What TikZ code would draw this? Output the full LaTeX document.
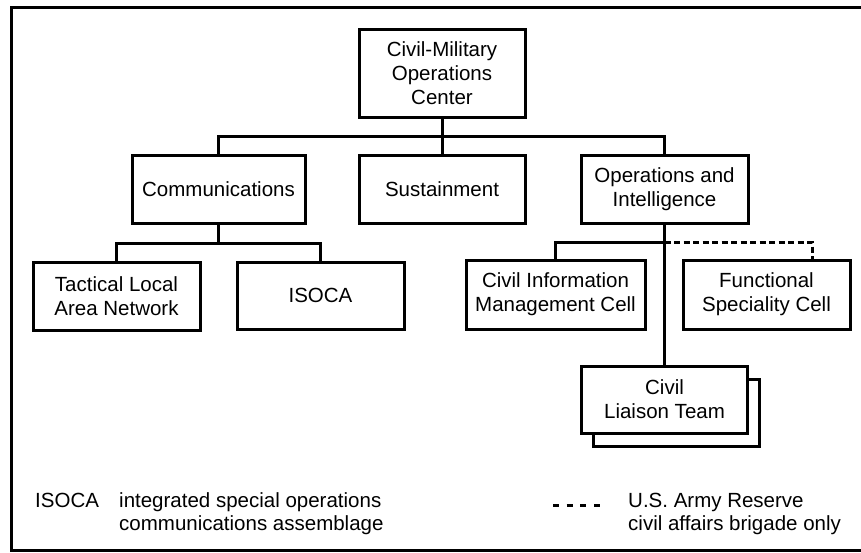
\documentclass[tikz,border=0pt]{standalone}
\usepackage{fontspec}
\setmainfont{Liberation Sans}
\usetikzlibrary{shadows}

\begin{document}
\begin{tikzpicture}[x=1pt,y=-1pt,
  unit/.style={draw,line width=3pt,fill=white,align=center,inner sep=2pt,font=\fontsize{20.5}{24}\selectfont},
  link/.style={line width=3pt},
  usar/.style={line width=3pt,dash pattern=on 6pt off 3.5pt},
  legend/.style={anchor=base west,inner sep=0pt,font=\fontsize{20.5}{24}\selectfont}]
%================================================================
%	Frame
\useasboundingbox (0,0) rectangle (861,552);
\draw[link] (11,7) rectangle (868,550);
%================================================================
%	Units
\node[unit,minimum width=166pt,minimum height=88pt] (cmoc) at (442,73) {Civil-Military\\Operations\\Center};
%----------------------------------------------------------------
\node[unit,minimum width=173pt,minimum height=68pt] (comm) at (218.5,189) {Communications};
\node[unit,minimum width=166pt,minimum height=68pt] (sust) at (442,189) {Sustainment};
\node[unit,minimum width=167pt,minimum height=68pt] (opsint) at (664.5,189) {Operations and\\Intelligence};
%----------------------------------------------------------------
\node[unit,minimum width=167pt,minimum height=68pt] (tlan) at (116.5,296) {Tactical Local\\Area Network};
\node[unit,minimum width=167pt,minimum height=67pt] (isoca) at (320.5,295.5) {ISOCA};
\node[unit,minimum width=179pt,minimum height=69pt] (cimc) at (555.5,294.5) {Civil Information\\Management Cell};
\node[unit,minimum width=167pt,minimum height=69pt] (fsc) at (766.5,294.5) {Functional\\Speciality Cell};
\node[unit,minimum width=166pt,minimum height=67pt,
  general shadow={shadow xshift=12pt,shadow yshift=-13pt,draw,fill=white,line width=3pt}] (clt) at (664.5,399.5) {Civil\\Liaison Team};
%================================================================
%	Connectors
\coordinate (topbus) at (442,136);
\draw[link] (cmoc) -- (sust);
\draw[link] (comm.north) |- (topbus) -| (opsint.north);
%----------------------------------------------------------------
\coordinate (commbus) at (218.5,243);
\draw[link] (comm) -- (commbus);
\draw[link] (tlan.north) |- (commbus) -| (isoca.north);
%----------------------------------------------------------------
\coordinate (opsbus) at (664.5,242);
\coordinate (fscbus) at (812,242);
\draw[link] (opsint) -- (clt);
\draw[link] (cimc.north) |- (opsbus);
\draw[usar] (opsbus) -- (fscbus) -- (fscbus |- fsc.north);
%================================================================
%	Legend
\node[legend] (isocakey) at (35,507) {ISOCA};
\node[legend] (isocadef1) at (119,507) {integrated special operations};
\node[legend] (isocadef2) at (119,530) {communications assemblage};
%----------------------------------------------------------------
\coordinate (dashl) at (553,505);
\coordinate (dashr) at (600,505);
\draw[line width=3pt,dash pattern=on 6pt off 7.67pt] (dashl) -- (dashr);
\node[legend] (usarkey1) at (628,507) {U.S. Army Reserve};
\node[legend] (usarkey2) at (628,530) {civil affairs brigade only};
%================================================================
\end{tikzpicture}
\end{document}
